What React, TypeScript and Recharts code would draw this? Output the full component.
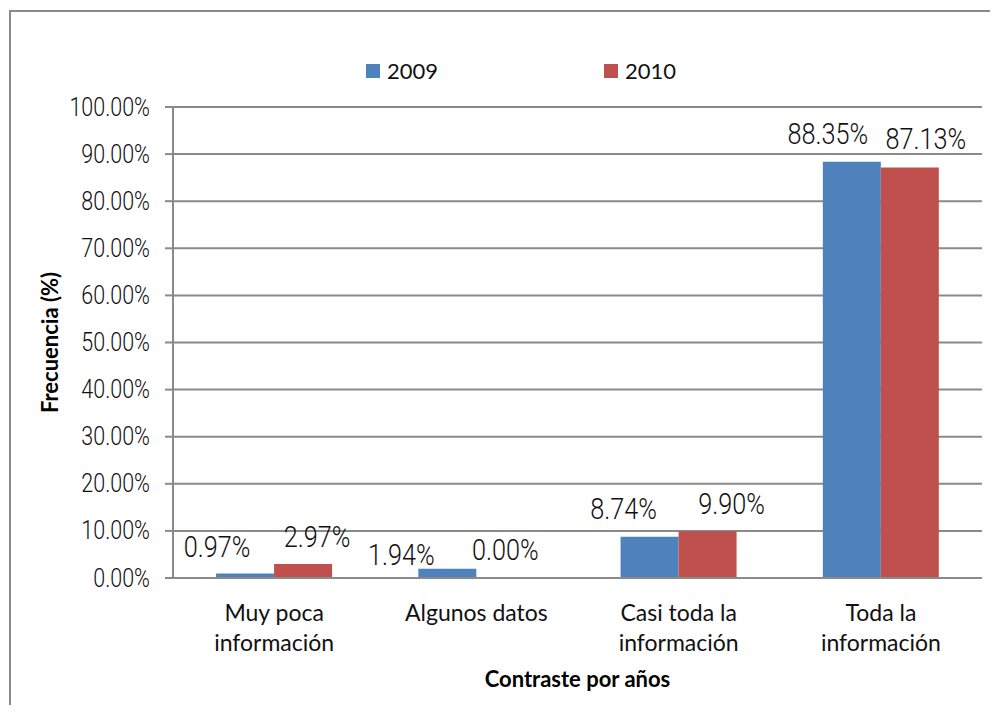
import { BarChart, Bar, XAxis, YAxis, CartesianGrid, Legend, LabelList } from "recharts";

const categories = [
  "Muy poca\ninformación",
  "Algunos datos",
  "Casi toda la\ninformación",
  "Toda la\ninformación",
];
const values2009 = [0.97, 1.94, 8.74, 88.35];
const values2010 = [2.97, 0.0, 9.9, 87.13];
const yTicks = [0, 10, 20, 30, 40, 50, 60, 70, 80, 90, 100];
const seriesNames = ["2009", "2010"];

const BLUE = "#4F81BD";
const RED = "#C0504D";
const GRID = "#8a8a8a";
const NARROW = "Roboto, sans-serif";
const SANS = 'Lato, "Noto Sans", sans-serif';

// label nudges as placed in the original (dx from bar centre, rise above bar top)
const labelNudge: Record<string, { dx: number[]; rise: number[] }> = {
  "2009": { dx: [-28, -46, -26, -24], rise: [16, 4, 18, 18] },
  "2010": { dx: [14, 0, 24, 16], rise: [17, 18, 17, 19] },
};

const data = categories.map((name, i) => ({
  name,
  "2009": values2009[i],
  "2010": values2010[i],
}));

function makeLabel(series: string) {
  return (props: any) => {
    const { x, y, width, height, value, index } = props;
    const n = labelNudge[series];
    const tx = Number(x) + Number(width) / 2 + n.dx[index];
    // top of the bar, whatever way the height is signed
    const top = Math.min(Number(y), Number(y) + Number(height || 0));
    const ty = top - n.rise[index];
    return (
      <text
        transform={`translate(${tx},${ty}) scale(0.87,1)`}
        textAnchor="middle"
        fontFamily={NARROW}
        fontWeight={300}
        fontSize={29}
        fill="#111"
      >
        {Number(value).toFixed(2)}%
      </text>
    );
  };
}

function ValueTick(props: any) {
  const { x, y, payload } = props;
  return (
    <text
      transform={`translate(${x},${y}) scale(0.86,1)`}
      textAnchor="end"
      dominantBaseline="central"
      fontFamily={NARROW}
      fontWeight={300}
      fontSize={25}
      fill="#111"
    >
      {`${Number(payload.value).toFixed(2)}%`}
    </text>
  );
}

function CategoryTick(props: any) {
  const { x, y, payload } = props;
  const lines = String(payload.value).split("\n");
  return (
    <text x={x} textAnchor="middle" fontFamily={SANS} fontSize={23} fill="#111">
      {lines.map((ln, i) => (
        <tspan key={i} x={x} y={y + 41 + i * 30}>
          {ln}
        </tspan>
      ))}
    </text>
  );
}

function LegendBox() {
  const colors = [BLUE, RED];
  return (
    <div style={{ height: 40, position: "relative", fontFamily: SANS, fontSize: 22, color: "#111" }}>
      {seriesNames.map((s, i) => (
        <div
          key={s}
          style={{
            position: "absolute",
            left: i === 0 ? 366 : 604,
            top: 10,
            display: "flex",
            alignItems: "center",
          }}
        >
          <span style={{ width: 14, height: 14, background: colors[i], display: "inline-block", marginRight: 7 }} />
          <span>{s}</span>
        </div>
      ))}
    </div>
  );
}

// keep zero-valued bars in the label list (a hair-thin bar sits under the axis line)
const keepZero = (v: any) => (Number(Array.isArray(v) ? v[1] - v[0] : v) === 0 ? 0.3 : 0);

export default function App() {
  return (
    <div
      style={{
        position: "relative",
        width: 998,
        height: 713,
        margin: -8,
        overflow: "hidden",
        background: "#fff",
        fontFamily: SANS,
      }}
    >
      <div
        style={{
          position: "absolute",
          left: 9,
          top: 10,
          width: 1100,
          height: 1100,
          border: `2px solid ${GRID}`,
          boxSizing: "border-box",
        }}
      />
      <div style={{ position: "absolute", left: 0, top: 0 }}>
        <BarChart
          width={998}
          height={713}
          data={data}
          margin={{ top: 67, right: 16, left: 73, bottom: 0 }}
          barCategoryGap="21.3%"
          barGap={0}
        >
          <CartesianGrid vertical={false} stroke={GRID} strokeWidth={2} />
          <Legend
            verticalAlign="top"
            content={() => <LegendBox />}
            wrapperStyle={{ top: 47, left: 0, width: 998 }}
          />
          <XAxis
            dataKey="name"
            height={135}
            tickSize={0}
            tickLine={false}
            axisLine={{ stroke: GRID, strokeWidth: 2 }}
            tick={<CategoryTick />}
            interval={0}
            label={(p: any) => {
              const vb = p.viewBox;
              return (
                <text
                  x={vb.x + vb.width / 2}
                  y={vb.y + 109}
                  textAnchor="middle"
                  fontFamily={SANS}
                  fontWeight={700}
                  fontSize={22}
                  fill="#000"
                >
                  Contraste por años
                </text>
              );
            }}
          />
          <YAxis
            width={100}
            domain={[0, 100]}
            ticks={yTicks}
            interval={0}
            tickSize={8}
            tickMargin={15}
            tick={<ValueTick />}
            axisLine={{ stroke: GRID, strokeWidth: 2 }}
            tickLine={{ stroke: GRID, strokeWidth: 2 }}
            label={(p: any) => {
              const vb = p.viewBox;
              const cx = vb.x - 24;
              const cy = vb.y + vb.height / 2;
              return (
                <text
                  x={cx}
                  y={cy}
                  transform={`rotate(-90 ${cx} ${cy})`}
                  textAnchor="middle"
                  dominantBaseline="central"
                  fontFamily={SANS}
                  fontWeight={700}
                  fontSize={22}
                  fill="#000"
                >
                  Frecuencia (%)
                </text>
              );
            }}
          />
          <Bar dataKey="2009" fill={BLUE} isAnimationActive={false} minPointSize={keepZero}>
            <LabelList dataKey="2009" content={makeLabel("2009")} />
          </Bar>
          <Bar dataKey="2010" fill={RED} isAnimationActive={false} minPointSize={keepZero}>
            <LabelList dataKey="2010" content={makeLabel("2010")} />
          </Bar>
        </BarChart>
      </div>
    </div>
  );
}
